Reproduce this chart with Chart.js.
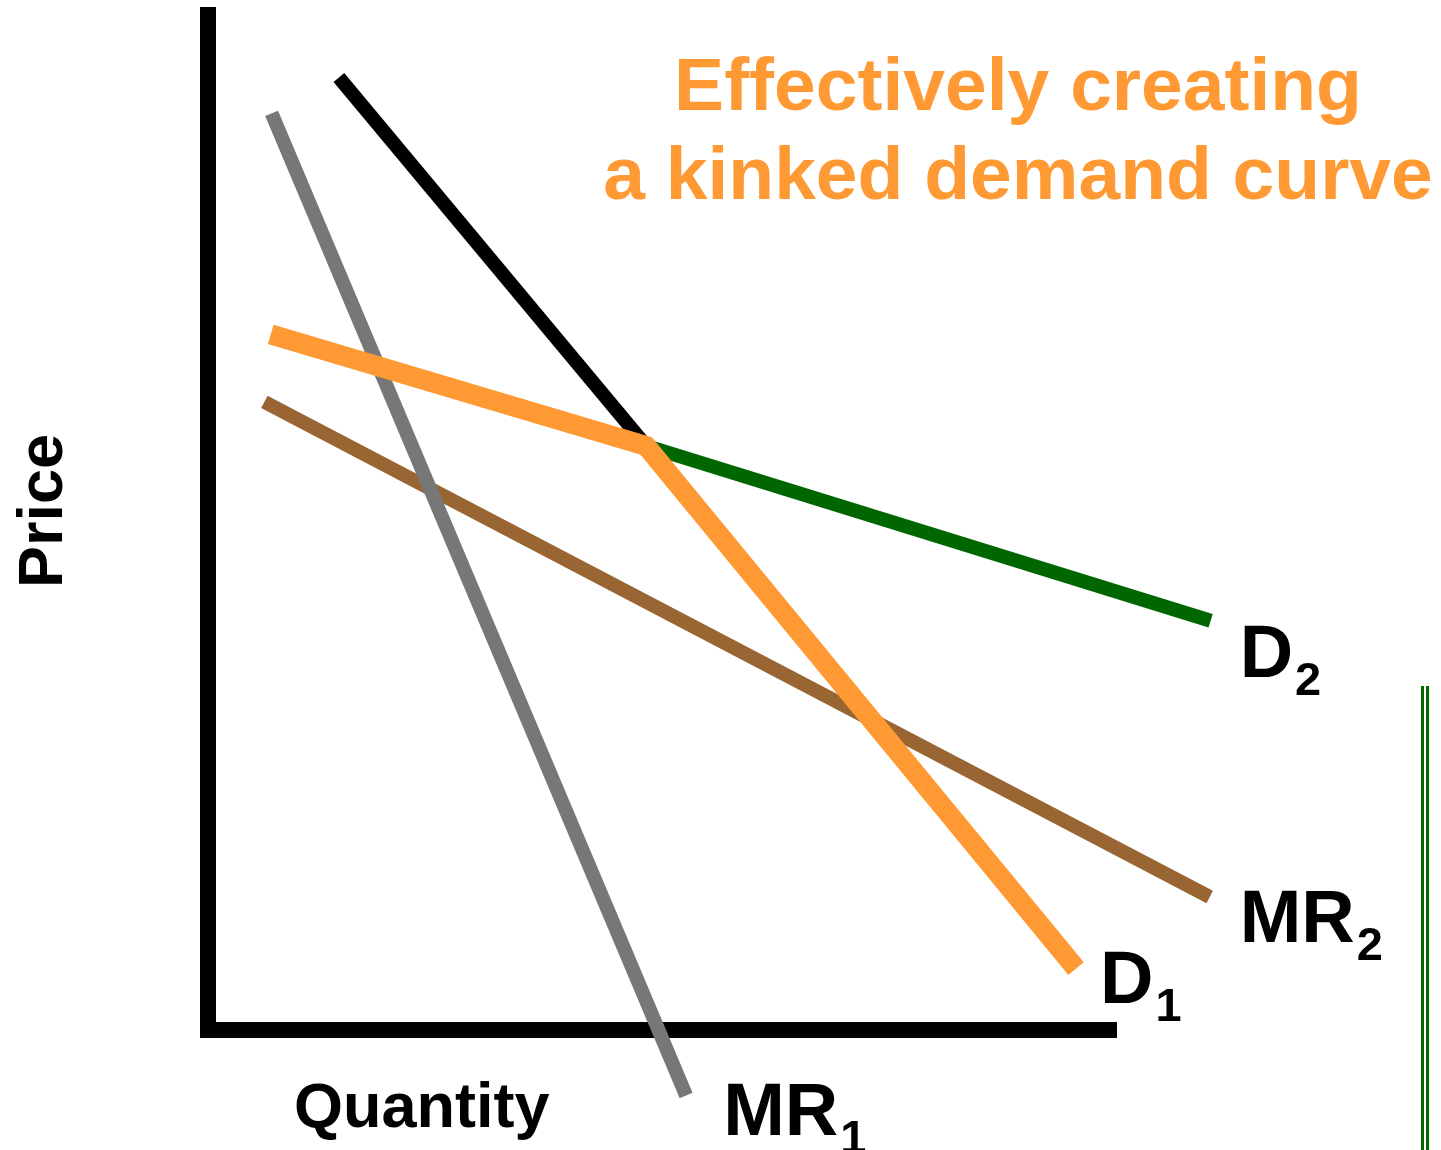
<!DOCTYPE html>
<html>
<head>
<meta charset="utf-8">
<script src="https://cdn.jsdelivr.net/npm/chart.js@4.4.1/dist/chart.umd.min.js"></script>
<style>
  html, body { margin: 0; padding: 0; background: #ffffff; }
  #wrap { position: relative; width: 1441px; height: 1150px; }
  #frame {
    position: absolute; left: 1421px; top: 686px; width: 0; height: 464px;
    border-left: 8px double #006600;
  }
</style>
</head>
<body>
<div id="wrap">
  <canvas id="chart" width="1441" height="1150"></canvas>
  <div id="frame"></div>
</div>
<script>
// Quantity / price points for each curve (arbitrary units, origin at the axes corner)
const kink = { x: 4.82, y: 5.71 };
const demandSteep = [{ x: 1.44, y: 9.31 }, kink];          // D1 above the kink
const demandFlat = [kink, { x: 11.03, y: 4.00 }];           // D2 below the kink
const kinkedDemand = [{ x: 0.69, y: 6.80 }, kink, { x: 9.55, y: 0.60 }];
const marginalRevenue1 = [{ x: 0.70, y: 8.96 }, { x: 5.26, y: -0.64 }];
const marginalRevenue2 = [{ x: 0.62, y: 6.14 }, { x: 11.02, y: 1.30 }];
const axisFrame = [{ x: 0, y: 10 }, { x: 0, y: 0 }, { x: 10, y: 0 }];

const titleLines = ['Effectively creating', 'a kinked demand curve'];
const curveLabels = [
  { main: 'D', sub: '2', at: demandFlat[1], dx: 29, dy: 56 },
  { main: 'MR', sub: '2', at: marginalRevenue2[1], dx: 30, dy: 45 },
  { main: 'D', sub: '1', at: kinkedDemand[2], dx: 24, dy: 34 },
  { main: 'MR', sub: '1', at: marginalRevenue1[1], dx: 37, dy: 40 }
];

const FONT = '"Liberation Sans", Arial, Helvetica, sans-serif';

function line(data, color, width) {
  return {
    data, borderColor: color, borderWidth: width,
    pointRadius: 0, showLine: true, fill: false, tension: 0,
    borderCapStyle: 'butt', borderJoinStyle: 'miter', clip: false
  };
}

const textPlugin = {
  id: 'curveText',
  afterDraw(chart) {
    const { ctx, scales: { x, y } } = chart;
    ctx.save();
    // Title
    ctx.fillStyle = '#FF9933';
    ctx.font = 'bold 75px ' + FONT;
    ctx.textAlign = 'center';
    ctx.textBaseline = 'alphabetic';
    ctx.fillText(titleLines[0], 1018, 110);
    ctx.fillText(titleLines[1], 1018, 199);

    // Curve labels with subscripts
    ctx.fillStyle = '#000000';
    ctx.textAlign = 'left';
    curveLabels.forEach(l => {
      const px = x.getPixelForValue(l.at.x) + l.dx;
      const py = y.getPixelForValue(l.at.y) + l.dy;
      ctx.font = 'bold 74px ' + FONT;
      ctx.fillText(l.main, px, py);
      const w = ctx.measureText(l.main).width;
      ctx.font = 'bold 47px ' + FONT;
      ctx.fillText(l.sub, px + w + 2, py + 18);
    });

    // Axis titles
    ctx.font = 'bold 63px ' + FONT;
    ctx.fillText('Quantity', 294, 1127);
    ctx.translate(62, 511);
    ctx.rotate(-Math.PI / 2);
    ctx.textAlign = 'center';
    ctx.fillText('Price', 0, 0);
    ctx.restore();
  }
};

new Chart(document.getElementById('chart'), {
  type: 'scatter',
  data: {
    datasets: [
      line(kinkedDemand, '#FF9933', 20),
      line(marginalRevenue1, '#777777', 14),
      line(demandFlat, '#006600', 14),
      line(demandSteep, '#000000', 14),
      line(marginalRevenue2, '#996633', 14),
      line(axisFrame, '#000000', 16)
    ]
  },
  options: {
    responsive: false,
    animation: false,
    layout: { padding: { left: 208, right: 324, top: 7, bottom: 120 } },
    plugins: { legend: { display: false }, tooltip: { enabled: false } },
    scales: {
      x: { type: 'linear', min: 0, max: 10, display: false },
      y: { type: 'linear', min: 0, max: 10, display: false }
    }
  },
  plugins: [textPlugin]
});
</script>
</body>
</html>
